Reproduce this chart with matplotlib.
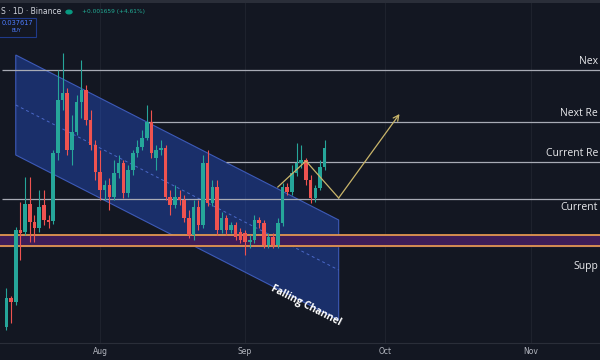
import matplotlib
matplotlib.use("Agg")
import matplotlib.pyplot as plt
import matplotlib.dates as mdates
from matplotlib.patches import Polygon, Rectangle
import pandas as pd

# daily candles
dates = pd.date_range("2024-07-12", periods=69, freq="D")
opens = [0.0197, 0.0226, 0.0222, 0.0294, 0.0292, 0.0320, 0.0302, 0.0296, 0.0319, 0.0304,
         0.0303, 0.0371, 0.0424, 0.0431, 0.0374, 0.0392, 0.0422, 0.0434, 0.0404, 0.0379,
         0.0352, 0.0334, 0.0339, 0.0327, 0.0351, 0.0361, 0.0331, 0.0354, 0.0371, 0.0377,
         0.0386, 0.0402, 0.0366, 0.0374, 0.0376, 0.0327, 0.0319, 0.0327, 0.0324, 0.0306,
         0.0289, 0.0317, 0.0299, 0.0361, 0.0321, 0.0337, 0.0294, 0.0306, 0.0294, 0.0299,
         0.0292, 0.0291, 0.0282, 0.0284, 0.0304, 0.0301, 0.0279, 0.0287, 0.0279, 0.0301,
         0.0337, 0.0332, 0.0351, 0.0361, 0.0364, 0.0344, 0.0326, 0.0336, 0.0357]
highs = [0.0236, 0.0228, 0.0297, 0.0322, 0.0347, 0.0347, 0.0309, 0.0334, 0.0334, 0.0309,
         0.0374, 0.0454, 0.0471, 0.0436, 0.0409, 0.0429, 0.0464, 0.0439, 0.0414, 0.0384,
         0.0374, 0.0344, 0.0346, 0.0364, 0.0369, 0.0364, 0.0359, 0.0374, 0.0384, 0.0394,
         0.0419, 0.0414, 0.0379, 0.0384, 0.0379, 0.0334, 0.0339, 0.0334, 0.0329, 0.0314,
         0.0324, 0.0324, 0.0369, 0.0374, 0.0344, 0.0344, 0.0312, 0.0309, 0.0302, 0.0302,
         0.0296, 0.0294, 0.0289, 0.0309, 0.0307, 0.0304, 0.0291, 0.0291, 0.0306, 0.0341,
         0.0341, 0.0359, 0.0381, 0.0379, 0.0366, 0.0349, 0.0339, 0.0364, 0.0384]
lows = [0.0194, 0.0201, 0.0219, 0.0264, 0.0289, 0.0282, 0.0282, 0.0292, 0.0299, 0.0296,
        0.0300, 0.0364, 0.0414, 0.0369, 0.0359, 0.0389, 0.0406, 0.0399, 0.0374, 0.0344,
        0.0324, 0.0324, 0.0314, 0.0324, 0.0346, 0.0326, 0.0327, 0.0349, 0.0367, 0.0374,
        0.0384, 0.0366, 0.0354, 0.0369, 0.0324, 0.0309, 0.0316, 0.0319, 0.0302, 0.0286,
        0.0284, 0.0294, 0.0296, 0.0318, 0.0318, 0.0289, 0.0291, 0.0289, 0.0291, 0.0284,
        0.0281, 0.0269, 0.0276, 0.0281, 0.0296, 0.0276, 0.0276, 0.0276, 0.0276, 0.0298,
        0.0329, 0.0329, 0.0348, 0.0356, 0.0339, 0.0321, 0.0322, 0.0334, 0.0354]
closes = [0.0226, 0.0222, 0.0294, 0.0291, 0.0320, 0.0302, 0.0296, 0.0317, 0.0304, 0.0302,
          0.0371, 0.0424, 0.0431, 0.0374, 0.0392, 0.0422, 0.0434, 0.0404, 0.0379, 0.0352,
          0.0334, 0.0339, 0.0327, 0.0351, 0.0361, 0.0331, 0.0354, 0.0371, 0.0377, 0.0386,
          0.0402, 0.0371, 0.0374, 0.0376, 0.0327, 0.0319, 0.0327, 0.0324, 0.0306, 0.0289,
          0.0317, 0.0299, 0.0361, 0.0321, 0.0337, 0.0294, 0.0306, 0.0294, 0.0299, 0.0287,
          0.0284, 0.0282, 0.0284, 0.0304, 0.0301, 0.0279, 0.0287, 0.0279, 0.0301, 0.0337,
          0.0332, 0.0351, 0.0361, 0.0364, 0.0344, 0.0326, 0.0336, 0.0357, 0.0376]

# drawn levels (price) and where they start
level_prices = [0.0454, 0.0402, 0.0362, 0.0325]
level_starts = ["2024-07-11", "2024-08-11", "2024-08-28", "2024-07-11"]
support_zone = (0.0278, 0.0289)

# labels as they show in the cropped screenshot
label_txt = ["Nex", "Next Re", "Current Re", "Current", "Supp"]
label_prices = [0.0462, 0.0411, 0.0371, 0.0317, 0.0258]

# falling channel corners: (date, price)
channel = [("2024-07-14", 0.0469), ("2024-09-21", 0.0304),
           ("2024-09-21", 0.0204), ("2024-07-14", 0.0369)]
channel_mid = [("2024-07-14", 0.0419), ("2024-09-21", 0.0254)]

# projected path
path_dates = ["2024-09-08", "2024-09-14", "2024-09-21", "2024-10-04"]
path_prices = [0.0337, 0.0363, 0.0326, 0.0410]

BG = "#131722"
UP = "#26a69a"
DOWN = "#ef5350"

fig = plt.figure(figsize=(6, 3.6), dpi=100, facecolor=BG)
ax = fig.add_axes([0, 17 / 360, 1, 343 / 360])
ax.set_facecolor(BG)

aug1 = mdates.date2num(pd.Timestamp("2024-08-01"))
ax.set_xlim(aug1 - 100 / 4.68, aug1 + 500 / 4.68)
ax.set_ylim(0.0181, 0.0524)

x = mdates.date2num(dates)

# grid
for m in ["2024-08-01", "2024-09-01", "2024-10-01", "2024-11-01"]:
    ax.axvline(mdates.date2num(pd.Timestamp(m)), color="#1e222d", lw=0.8, zorder=0)

# channel
chx = [mdates.date2num(pd.Timestamp(d)) for d, p in channel]
chy = [p for d, p in channel]
ax.add_patch(Polygon(list(zip(chx, chy)), closed=True, facecolor="#2962ff", alpha=0.33,
                     edgecolor="none", zorder=1))
ax.add_patch(Polygon(list(zip(chx, chy)), closed=True, facecolor="none",
                     edgecolor="#3d5ab8", lw=0.8, zorder=1))
mx = [mdates.date2num(pd.Timestamp(d)) for d, p in channel_mid]
ax.plot(mx, [p for d, p in channel_mid], color="#4a68c8", lw=0.7, ls=(0, (3, 3)), zorder=1)

# support zone
ax.axhspan(support_zone[0], support_zone[1], color="#3e1d58", zorder=2)
for p in support_zone:
    ax.axhline(p, color="#f0a050", lw=1.2, zorder=3)

# levels
for p, s in zip(level_prices, level_starts):
    ax.hlines(p, mdates.date2num(pd.Timestamp(s)), ax.get_xlim()[1], color="#a8abb5", lw=0.9, zorder=3)

# candles
w = 0.75
for xi, o, h, l, c in zip(x, opens, highs, lows, closes):
    col = UP if c >= o else DOWN
    ax.vlines(xi, l, h, color=col, lw=0.8, zorder=4)
    ax.add_patch(Rectangle((xi - w / 2, min(o, c)), w, max(abs(c - o), 0.00015),
                           facecolor=col, edgecolor="none", zorder=5))

# projected path
px = [mdates.date2num(pd.Timestamp(d)) for d in path_dates]
ax.plot(px[:-1], path_prices[:-1], color="#c9b56a", lw=0.9, zorder=6)
ax.annotate("", xy=(px[-1], path_prices[-1]), xytext=(px[-2], path_prices[-2]),
            arrowprops=dict(arrowstyle="->", color="#c9b56a", lw=0.9,
                            shrinkA=0, shrinkB=0), zorder=6)

# level labels, right edge like the screenshot
for t, ly in zip(label_txt, label_prices):
    ax.text(0.997, ly, t, transform=ax.get_yaxis_transform(), color="#e8e9ec",
            fontsize=7.5, ha="right", va="center", fontfamily="Open Sans", zorder=7)

ax.text(mdates.date2num(pd.Timestamp("2024-09-14")), 0.0218, "Falling Channel",
        rotation=-27, rotation_mode="anchor", ha="center", va="center",
        color="white", fontsize=7.3, fontweight="bold", fontfamily="Open Sans", zorder=7)

# axes styling
for s in ["top", "right", "left"]:
    ax.spines[s].set_visible(False)
ax.spines["bottom"].set_color("#2a2e39")
ax.set_yticks([])
ax.xaxis.set_major_locator(mdates.MonthLocator())
ax.xaxis.set_major_formatter(mdates.DateFormatter("%b"))
ax.tick_params(axis="x", length=0, pad=3, labelsize=5.5, colors="#b2b5be")

# header
fig.add_artist(Rectangle((0, 1 - 3 / 360), 1, 3 / 360, transform=fig.transFigure,
                         facecolor="#2a2e39", edgecolor="none"))
fig.text(0.002, 1 - 12 / 360, "S · 1D · Binance", color="#d1d4dc", fontsize=5.5,
         va="center", ha="left")
fig.add_artist(plt.Circle((69 / 600, 1 - 12 / 360), 0.005, transform=fig.transFigure,
                          color="#089981"))
fig.text(82 / 600, 1 - 12 / 360, "+0.001659 (+4.61%)", color="#22ab94", fontsize=4.2,
         va="center", ha="left")
fig.add_artist(Rectangle((-0.01, 1 - 37 / 360), 42 / 600, 19 / 360, transform=fig.transFigure,
                         facecolor=BG, edgecolor="#1f3a8a", lw=0.8))
fig.text(0.003, 1 - 23 / 360, "0.037617", color="#4d7cff", fontsize=4.8, va="center", ha="left")
fig.text(16 / 600, 1 - 31 / 360, "BUY", color="#4d7cff", fontsize=3.5, va="center", ha="center")

fig.savefig("out.png", dpi=100, facecolor=BG)
